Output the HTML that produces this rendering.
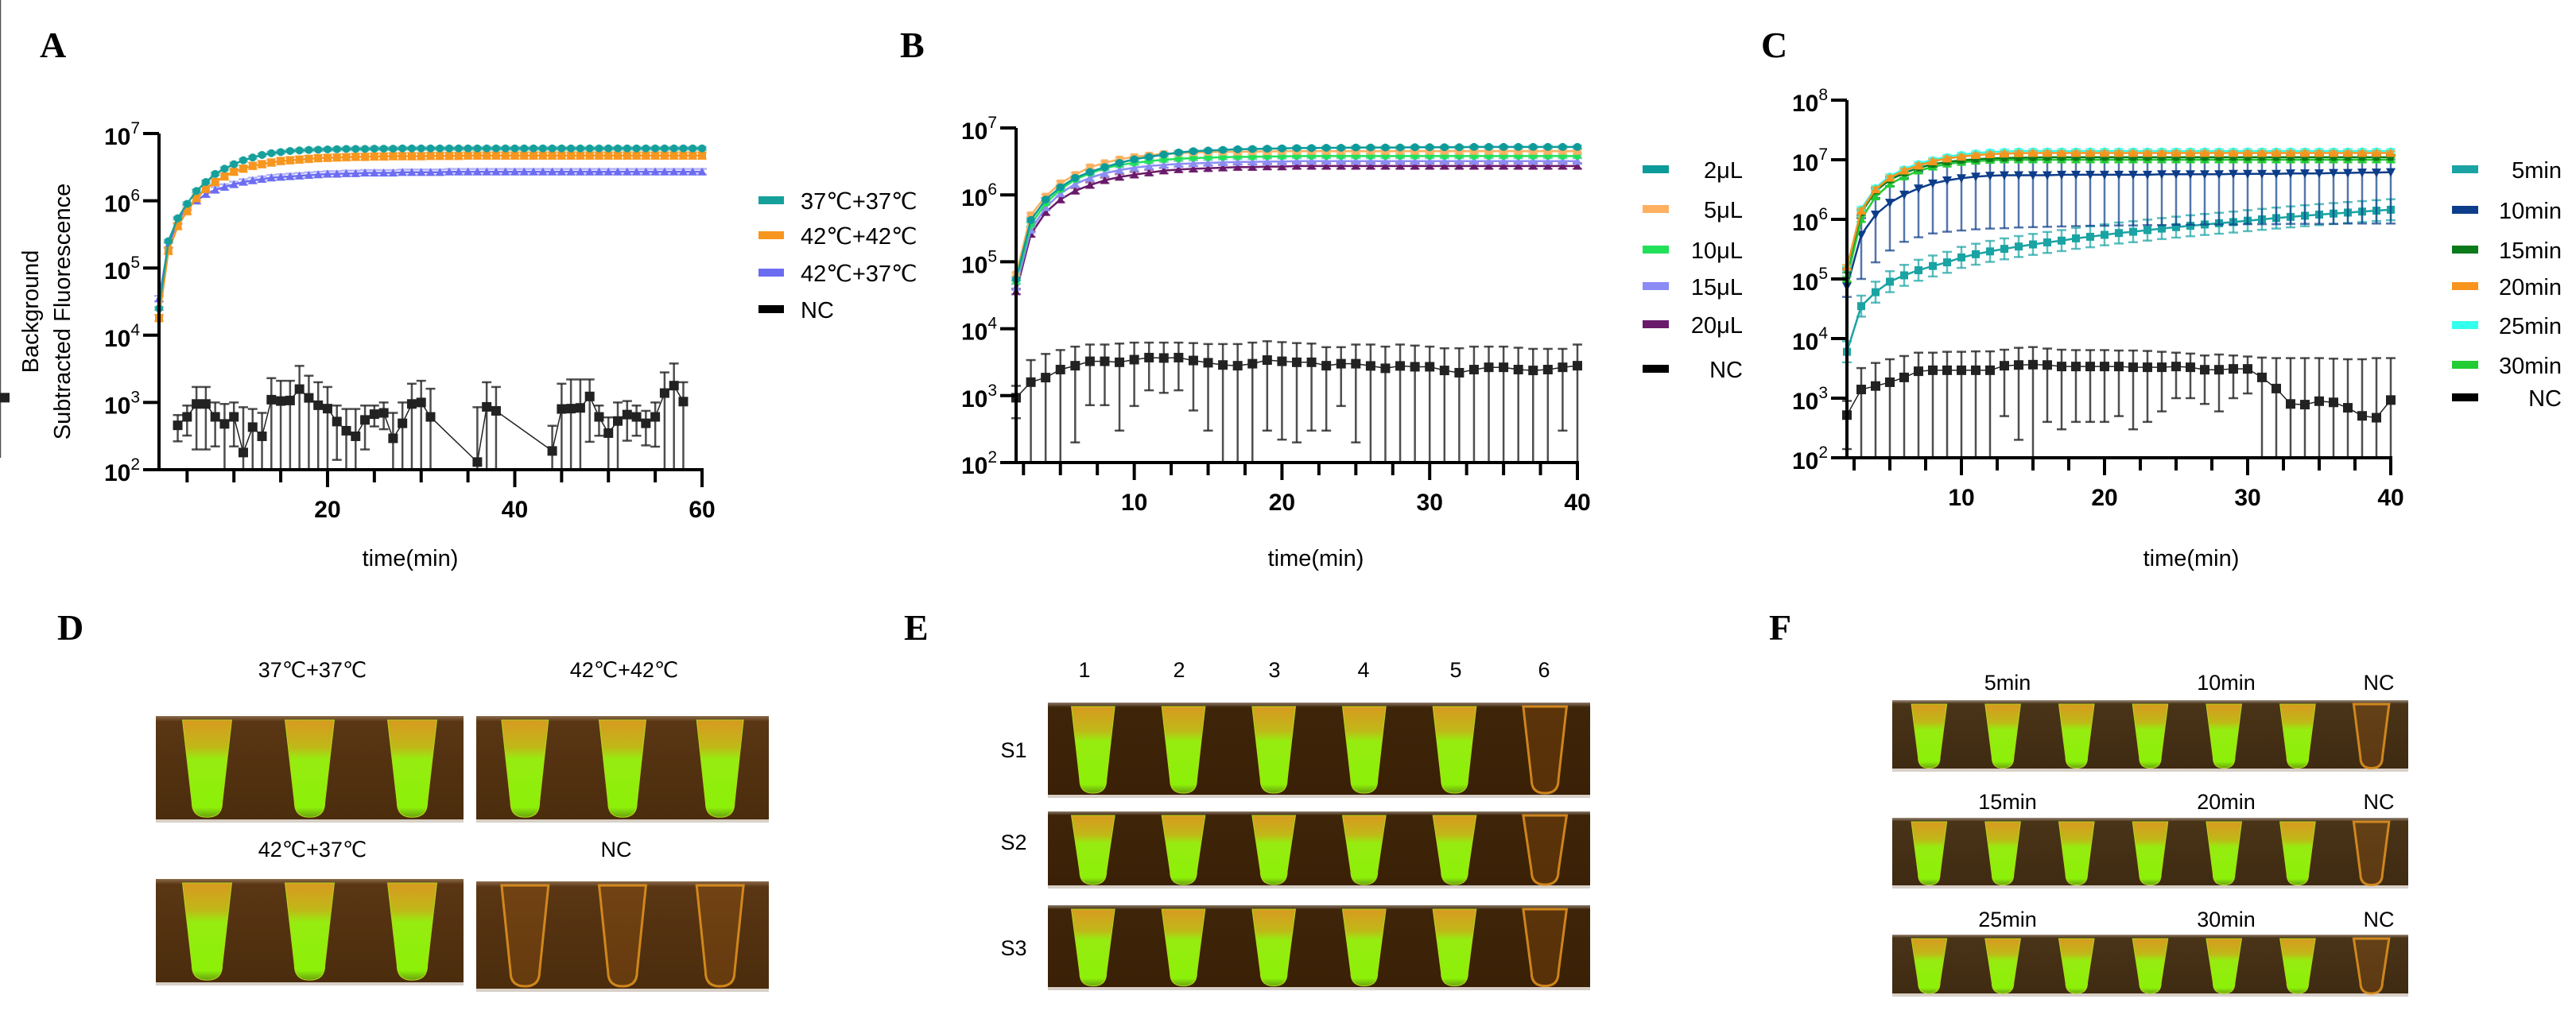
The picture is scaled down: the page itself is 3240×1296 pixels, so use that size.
<!DOCTYPE html>
<html><head><meta charset="utf-8"><style>
html,body{margin:0;padding:0;background:#fff;overflow:hidden;width:3240px;height:1296px;}
svg{display:block;font-family:"Liberation Sans",Arial,sans-serif;}
.tk{font-size:30px;font-weight:bold;fill:#000;}
.lg{font-size:29px;fill:#000;}
.pl{font-family:"Liberation Serif",serif;font-weight:bold;font-size:46px;fill:#000;}
.ph{font-size:27px;fill:#000;}
</style></head><body>
<svg id="fig" width="3240" height="1296" viewBox="0 0 3240 1296" xmlns="http://www.w3.org/2000/svg">
<defs>
<linearGradient id="bgD" x1="0" y1="0" x2="0" y2="1"><stop offset="0" stop-color="#8a6a4a"/><stop offset="0.05" stop-color="#5a3614"/><stop offset="1" stop-color="#4a2c0c"/></linearGradient>
<linearGradient id="bgE" x1="0" y1="0" x2="0" y2="1"><stop offset="0" stop-color="#8a7a6a"/><stop offset="0.05" stop-color="#3e2408"/><stop offset="1" stop-color="#3a2006"/></linearGradient>
<linearGradient id="bgF" x1="0" y1="0" x2="0" y2="1"><stop offset="0" stop-color="#9a8a7a"/><stop offset="0.05" stop-color="#4a3418"/><stop offset="1" stop-color="#3e2a12"/></linearGradient>
<linearGradient id="tubeG" x1="0" y1="0" x2="0" y2="1"><stop offset="0" stop-color="#d89a20"/><stop offset="0.28" stop-color="#c0b818"/><stop offset="0.4" stop-color="#96ec10"/><stop offset="0.9" stop-color="#8cf008"/><stop offset="1" stop-color="#6aa010"/></linearGradient>
</defs>
</svg>
<script>
// ---------- Panel A data ----------
const aTime = [2,3,4,5,6,7,8,9,10,11,12,13,14,15,16,17,18,19,20,21,22,23,24,25,26,27,28,29,30,31,32,33,34,35,36,37,38,39,40,41,42,43,44,45,46,47,48,49,50,51,52,53,54,55,56,57,58,59,60];
const a3737 = [2.5e4,2.5e5,5.5e5,9e5,1.4e6,1.9e6,2.5e6,3.0e6,3.5e6,4.0e6,4.4e6,4.8e6,5.1e6,5.3e6,5.5e6,5.6e6,5.7e6,5.75e6,5.8e6,5.85e6,5.9e6,5.9e6,5.9e6,5.95e6,5.95e6,5.95e6,6.0e6,6.0e6,6.0e6,6.0e6,6.0e6,6.0e6,6.0e6,6.0e6,6.0e6,6.0e6,6.0e6,6.0e6,6.0e6,6.0e6,6.0e6,6.0e6,6.0e6,6.0e6,6.0e6,6.0e6,6.0e6,6.0e6,6.0e6,6.0e6,6.0e6,6.0e6,6.0e6,6.0e6,6.0e6,6.0e6,6.0e6,6.0e6,6.0e6];
const a4242 = [1.8e4,1.8e5,4.2e5,7e5,1.1e6,1.5e6,1.9e6,2.3e6,2.7e6,3.0e6,3.3e6,3.5e6,3.7e6,3.9e6,4.0e6,4.1e6,4.2e6,4.3e6,4.35e6,4.4e6,4.45e6,4.5e6,4.5e6,4.55e6,4.55e6,4.6e6,4.6e6,4.6e6,4.6e6,4.65e6,4.65e6,4.65e6,4.65e6,4.7e6,4.7e6,4.7e6,4.7e6,4.7e6,4.7e6,4.7e6,4.7e6,4.7e6,4.7e6,4.7e6,4.7e6,4.7e6,4.7e6,4.7e6,4.7e6,4.7e6,4.7e6,4.7e6,4.7e6,4.7e6,4.7e6,4.7e6,4.7e6,4.7e6,4.7e6];
const a4237 = [3.5e4,2.2e5,5e5,8e5,1.0e6,1.25e6,1.45e6,1.6e6,1.75e6,1.9e6,2.0e6,2.1e6,2.2e6,2.25e6,2.3e6,2.35e6,2.4e6,2.45e6,2.5e6,2.5e6,2.55e6,2.55e6,2.6e6,2.6e6,2.6e6,2.6e6,2.65e6,2.65e6,2.65e6,2.65e6,2.65e6,2.7e6,2.7e6,2.7e6,2.7e6,2.7e6,2.7e6,2.7e6,2.7e6,2.7e6,2.7e6,2.7e6,2.7e6,2.7e6,2.7e6,2.7e6,2.7e6,2.7e6,2.7e6,2.7e6,2.7e6,2.7e6,2.7e6,2.7e6,2.7e6,2.7e6,2.7e6,2.7e6,2.7e6];
const aNcTime = [4,5,6,7,8,9,10,11,12,13,14,15,16,17,18,19,20,21,22,23,24,25,26,27,28,29,30,31,36,37,38,44,45,46,47,48,49,50,51,52,53,54,55,56,57,58];
const aNc = [457,611,950,950,611,480,611,180,430,314,1100,1050,1070,1580,1170,910,810,520,380,314,550,670,700,293,490,950,1000,610,130,860,750,190,800,810,830,1230,610,350,530,660,610,490,610,1380,1780,1030];
const aNcUp = [650,900,1700,1700,1000,950,1000,850,800,700,2300,2100,2100,3500,2500,2000,1700,900,800,800,900,900,1000,700,1000,1900,2100,1600,850,2000,1700,450,1900,2200,2200,2200,900,600,1000,1050,900,750,1000,2800,3800,2000];
const aTicks = [20,40,60];
// ---------- Panel B data ----------
const bTime = [2,3,4,5,6,7,8,9,10,11,12,13,14,15,16,17,18,19,20,21,22,23,24,25,26,27,28,29,30,31,32,33,34,35,36,37,38,39,40];
const b2 = [5.5e4,4.2e5,8.5e5,1.3e6,1.8e6,2.2e6,2.6e6,3.0e6,3.4e6,3.7e6,4.0e6,4.3e6,4.5e6,4.6e6,4.7e6,4.8e6,4.85e6,4.9e6,4.95e6,5.0e6,5.0e6,5.05e6,5.05e6,5.1e6,5.1e6,5.1e6,5.1e6,5.15e6,5.15e6,5.15e6,5.15e6,5.2e6,5.2e6,5.2e6,5.2e6,5.2e6,5.2e6,5.2e6,5.2e6];
const b5 = [6.5e4,5.0e5,9.5e5,1.5e6,2.0e6,2.6e6,3.0e6,3.4e6,3.7e6,3.9e6,4.1e6,4.2e6,4.3e6,4.35e6,4.4e6,4.4e6,4.45e6,4.45e6,4.5e6,4.5e6,4.5e6,4.5e6,4.5e6,4.5e6,4.5e6,4.5e6,4.5e6,4.5e6,4.5e6,4.5e6,4.5e6,4.5e6,4.5e6,4.5e6,4.5e6,4.5e6,4.5e6,4.5e6,4.5e6];
const b10 = [5.0e4,3.6e5,7.5e5,1.2e6,1.7e6,2.1e6,2.5e6,2.8e6,3.0e6,3.2e6,3.35e6,3.45e6,3.55e6,3.6e6,3.65e6,3.7e6,3.7e6,3.75e6,3.75e6,3.8e6,3.8e6,3.8e6,3.8e6,3.8e6,3.8e6,3.8e6,3.8e6,3.8e6,3.8e6,3.8e6,3.8e6,3.8e6,3.8e6,3.8e6,3.8e6,3.8e6,3.8e6,3.8e6,3.8e6];
const b15 = [4.2e4,3.0e5,6.5e5,1.05e6,1.45e6,1.8e6,2.1e6,2.35e6,2.55e6,2.7e6,2.8e6,2.9e6,2.95e6,3.0e6,3.05e6,3.1e6,3.1e6,3.15e6,3.15e6,3.2e6,3.2e6,3.2e6,3.2e6,3.2e6,3.2e6,3.2e6,3.2e6,3.2e6,3.2e6,3.2e6,3.2e6,3.2e6,3.2e6,3.2e6,3.2e6,3.2e6,3.2e6,3.2e6,3.2e6];
const b20 = [3.6e4,2.6e5,5.5e5,8.5e5,1.15e6,1.4e6,1.65e6,1.85e6,2.0e6,2.15e6,2.3e6,2.4e6,2.45e6,2.5e6,2.55e6,2.6e6,2.6e6,2.65e6,2.65e6,2.7e6,2.7e6,2.7e6,2.7e6,2.7e6,2.7e6,2.7e6,2.7e6,2.7e6,2.7e6,2.7e6,2.7e6,2.7e6,2.7e6,2.7e6,2.7e6,2.7e6,2.7e6,2.7e6,2.7e6];
const bNc = [930,1590,1860,2450,2800,3260,3260,3150,3450,3700,3650,3700,3350,3100,2870,2800,3000,3400,3260,3150,3150,2800,3000,3000,2780,2560,2780,2700,2700,2380,2200,2450,2650,2650,2450,2380,2450,2650,2800];
const bNcUp = [1400,3400,4200,4800,5400,5800,5800,6000,6200,6200,6200,6200,6100,5900,5900,5900,6200,6500,6300,6100,6000,5300,5300,5800,5800,5400,5800,5600,5400,5100,5100,5400,5400,5400,5200,5000,5000,5000,5800];
const bTicks = [10,20,30,40];
// ---------- Panel C data ----------
const cTime = [2,3,4,5,6,7,8,9,10,11,12,13,14,15,16,17,18,19,20,21,22,23,24,25,26,27,28,29,30,31,32,33,34,35,36,37,38,39,40];
const c5 = [6e3,3.5e4,6e4,9e4,1.15e5,1.4e5,1.65e5,1.9e5,2.3e5,2.6e5,2.9e5,3.2e5,3.5e5,3.8e5,4.1e5,4.4e5,4.8e5,5.1e5,5.5e5,5.9e5,6.2e5,6.6e5,7.0e5,7.4e5,7.8e5,8.2e5,8.6e5,9.0e5,9.5e5,1.0e6,1.05e6,1.1e6,1.15e6,1.2e6,1.25e6,1.3e6,1.35e6,1.4e6,1.45e6];
const c10 = [7.5e4,5.5e5,1.2e6,1.9e6,2.6e6,3.3e6,4.0e6,4.5e6,4.9e6,5.2e6,5.4e6,5.5e6,5.5e6,5.5e6,5.5e6,5.6e6,5.6e6,5.6e6,5.6e6,5.6e6,5.6e6,5.6e6,5.7e6,5.7e6,5.7e6,5.7e6,5.7e6,5.8e6,5.8e6,5.8e6,5.8e6,5.9e6,5.9e6,5.9e6,6.0e6,6.0e6,6.1e6,6.1e6,6.2e6];
const c15 = [1.4e5,1.3e6,3.0e6,4.6e6,6.0e6,7.3e6,8.4e6,9.2e6,9.8e6,1.02e7,1.05e7,1.07e7,1.08e7,1.09e7,1.1e7,1.1e7,1.1e7,1.1e7,1.1e7,1.1e7,1.1e7,1.1e7,1.1e7,1.1e7,1.1e7,1.1e7,1.1e7,1.1e7,1.1e7,1.1e7,1.1e7,1.1e7,1.1e7,1.1e7,1.1e7,1.1e7,1.1e7,1.1e7,1.1e7];
const c20 = [1.6e5,1.4e6,3.2e6,5.0e6,6.6e6,8.0e6,9.4e6,1.05e7,1.13e7,1.2e7,1.24e7,1.27e7,1.29e7,1.3e7,1.3e7,1.3e7,1.3e7,1.3e7,1.3e7,1.3e7,1.3e7,1.3e7,1.3e7,1.3e7,1.3e7,1.3e7,1.3e7,1.3e7,1.3e7,1.3e7,1.3e7,1.3e7,1.3e7,1.3e7,1.3e7,1.3e7,1.3e7,1.3e7,1.3e7];
const c25 = [1.5e5,1.5e6,3.4e6,5.3e6,7.0e6,8.6e6,1.0e7,1.12e7,1.22e7,1.3e7,1.35e7,1.38e7,1.4e7,1.4e7,1.4e7,1.4e7,1.4e7,1.4e7,1.4e7,1.4e7,1.4e7,1.4e7,1.4e7,1.4e7,1.4e7,1.4e7,1.4e7,1.4e7,1.4e7,1.4e7,1.4e7,1.4e7,1.4e7,1.4e7,1.4e7,1.4e7,1.4e7,1.4e7,1.4e7];
const c30 = [1.0e5,1.0e6,2.4e6,3.9e6,5.2e6,6.5e6,7.6e6,8.5e6,9.1e6,9.5e6,9.8e6,1.0e7,1.0e7,1.0e7,1.0e7,1.0e7,1.0e7,1.0e7,1.0e7,1.0e7,1.0e7,1.0e7,1.0e7,1.0e7,1.0e7,1.0e7,1.0e7,1.0e7,1.0e7,1.0e7,1.0e7,1.0e7,1.0e7,1.0e7,1.0e7,1.0e7,1.0e7,1.0e7,1.0e7];
const c10Lo = [5e4,1.0e5,1.9e5,3.0e5,4.2e5,5.0e5,5.8e5,6.2e5,6.5e5,6.8e5,7.0e5,7.1e5,7.3e5,7.4e5,7.5e5,7.6e5,7.7e5,7.8e5,7.8e5,7.9e5,7.9e5,8.0e5,8.0e5,8.1e5,8.1e5,8.2e5,8.2e5,8.2e5,8.3e5,8.3e5,8.3e5,8.4e5,8.4e5,8.4e5,8.4e5,8.5e5,8.5e5,8.5e5,8.5e5];
const cNc = [520,1400,1600,1850,2230,2830,2940,2940,2940,2940,2940,3500,3600,3650,3600,3400,3400,3400,3400,3400,3300,3300,3300,3400,3300,3000,3000,3100,3100,2230,1450,800,780,890,850,690,505,470,930,1020];
const cNcUp = [900,3200,3900,4500,5100,5800,5800,6000,6000,6100,6100,6500,7000,7200,6800,6500,6400,6400,6400,6300,6300,6200,6000,5800,5600,5200,5400,5200,5000,4800,4700,4700,4700,4700,4600,4500,4500,4700,4700];
const cTicks = [10,20,30,40];
</script>
<script>
const NS = 'http://www.w3.org/2000/svg';
const svg = document.getElementById('fig');
function mk(tag, attrs, parent, txt) {
  const e = document.createElementNS(NS, tag);
  for (const k in attrs) e.setAttribute(k, attrs[k]);
  if (txt !== undefined) e.textContent = txt;
  (parent || svg).appendChild(e);
  return e;
}
function chart(c) {
  const g = mk('g', {});
  
  
  const X = v => c.px0 + (v - c.xmin) / (c.xmax - c.xmin) * (c.px1 - c.px0);
  const Y = v => c.py1 - (Math.log10(Math.max(v, 100)) - 2) / (c.dmax - 2) * (c.py1 - c.py0);
  c.series.forEach(s => {
    const sg = mk('g', {}, g);
    
    
    s.y.forEach((v, i) => {
      let up = s.up ? s.up[i] : v * (s.ef || 1.08);
      let lo = s.lo ? s.lo[i] : (s.up ? 2 * v - up : v / (s.ef || 1.08));
      const x = X(s.x[i]);
      const yU = Y(up), yL = lo > 100 ? Y(lo) : c.py1;
      mk('line', {x1: x, x2: x, y1: yU, y2: yL, stroke: s.ec || s.color, 'stroke-width': 2.5, opacity: s.eo || 0.8}, sg);
      mk('line', {x1: x - 6, x2: x + 6, y1: yU, y2: yU, stroke: s.ec || s.color, 'stroke-width': 2.5, opacity: s.eo || 0.8}, sg);
      if (lo > 100) mk('line', {x1: x - 6, x2: x + 6, y1: yL, y2: yL, stroke: s.ec || s.color, 'stroke-width': 2.5, opacity: s.eo || 0.8}, sg);
    });
    const pts = s.y.map((v, i) => X(s.x[i]).toFixed(1) + ',' + Y(v).toFixed(1)).join(' ');
    mk('polyline', {points: pts, fill: 'none', stroke: s.color, 'stroke-width': s.lw || 2.5}, sg);
    s.y.forEach((v, i) => {
      const x = X(s.x[i]), y = Y(v), r = s.r || 5.5;
      let m;
      if (s.shape === 'sq') m = mk('rect', {x: x - r, y: y - r, width: 2 * r, height: 2 * r, fill: s.color}, sg);
      else if (s.shape === 'tri') m = mk('polygon', {points: `${x},${y - r - 1} ${x - r - 1},${y + r} ${x + r + 1},${y + r}`, fill: s.color}, sg);
      else if (s.shape === 'dtri') m = mk('polygon', {points: `${x},${y + r + 1} ${x - r - 1},${y - r} ${x + r + 1},${y - r}`, fill: s.color}, sg);
      else m = mk('circle', {cx: x, cy: y, r: r, fill: s.color}, sg);
      
      
    });
  });
  const ax = mk('g', {}, g);
  
  
  mk('line', {x1: c.px0, x2: c.px0, y1: c.py0, y2: c.py1 + 2, stroke: '#000', 'stroke-width': 4}, ax);
  mk('line', {x1: c.px0 - 2, x2: c.px1 + 2, y1: c.py1, y2: c.py1, stroke: '#000', 'stroke-width': 4}, ax);
  for (let d = 2; d <= c.dmax; d++) {
    const y = Y(Math.pow(10, d));
    mk('line', {x1: c.px0 - 20, x2: c.px0, y1: y, y2: y, stroke: '#000', 'stroke-width': 4}, ax);
    const t = mk('text', {x: c.px0 - 24, y: y + 14, 'text-anchor': 'end', class: 'tk'}, ax);
    
    
    mk('tspan', {}, t, '10');
    mk('tspan', {dy: -14, 'font-size': 21, 'font-weight': 'normal'}, t, String(d));
  }
  for (let v = c.minorStart; v <= c.xmax + 0.01; v += c.minorStep) {
    const x = X(v);
    const major = c.ticks.indexOf(Math.round(v * 10) / 10) >= 0;
    mk('line', {x1: x, x2: x, y1: c.py1, y2: c.py1 + (major ? 22 : 16), stroke: '#000', 'stroke-width': 4}, ax);
  }
  c.ticks.forEach(v => {
    const t = mk('text', {x: X(v), y: c.py1 + 60, 'text-anchor': 'middle', class: 'tk'}, ax, String(v));
    
    
  });
  const xt = mk('text', {x: c.titleX, y: 712, 'text-anchor': 'middle', class: 'lg', 'font-size': 30}, g, 'time(min)');
  
  
  c.legend.forEach(l => {
    const lg = mk('g', {}, g);
    
    
    mk('rect', {x: c.legX, y: l.y - 5, width: c.legW, height: 10, fill: l.color}, lg);
    mk('text', {x: c.legTX, y: l.y + 11, 'text-anchor': c.legAnchor, class: 'lg'}, lg, l.label);
  });
}

const TEAL = '#16a09c', ORG = '#f7961e', PURA = '#6c6cf2';
chart({name: 'chart-a', px0: 200, px1: 883, xmin: 2, xmax: 60, py0: 168, py1: 591, dmax: 7,
  minorStart: 5, minorStep: 5, ticks: aTicks, titleX: 516,
  series: [
    {id: 'nc', x: aNcTime, y: aNc, up: aNcUp, color: '#222', ec: '#222', shape: 'sq', r: 6, lw: 1.5},
    {id: 'a-42-37', x: aTime, y: a4237, color: PURA, shape: 'tri', r: 4.5, ef: 1.1, eo: 0.5},
    {id: 'a-42-42', x: aTime, y: a4242, color: ORG, shape: 'sq', r: 5, ef: 1.12, eo: 0.5},
    {id: 'a-37-37', x: aTime, y: a3737, color: TEAL, shape: 'circ', r: 5, ef: 1.05, eo: 0.5}
  ],
  legX: 954, legW: 32, legTX: 1007, legAnchor: 'start',
  legend: [{y: 252, color: TEAL, label: '37℃+37℃'}, {y: 296, color: ORG, label: '42℃+42℃'}, {y: 343, color: PURA, label: '42℃+37℃'}, {y: 389, color: '#000', label: '  NC'}]
});
chart({name: 'chart-b', px0: 1278, px1: 1984, xmin: 2, xmax: 40, py0: 161, py1: 582, dmax: 7,
  minorStart: 2.5, minorStep: 2.5, ticks: bTicks, titleX: 1655,
  series: [
    {id: 'nc', x: bTime, y: bNc, up: bNcUp, color: '#222', ec: '#222', shape: 'sq', r: 6, lw: 1.5},
    {id: 'b-20ul', x: bTime, y: b20, color: '#6a1a6a', shape: 'tri', r: 4.5, ef: 1.1, eo: 0.6},
    {id: 'b-15ul', x: bTime, y: b15, color: '#8c8cf5', shape: 'tri', r: 4.5, ef: 1.1, eo: 0.5},
    {id: 'b-10ul', x: bTime, y: b10, color: '#22e05a', shape: 'circ', r: 4.5, ef: 1.06, eo: 0.5},
    {id: 'b-5ul', x: bTime, y: b5, color: '#fdb060', shape: 'sq', r: 4.5, ef: 1.06, eo: 0.5},
    {id: 'b-2ul', x: bTime, y: b2, color: '#0d9a9a', shape: 'circ', r: 5, ef: 1.05, eo: 0.5}
  ],
  legX: 2066, legW: 33, legTX: 2192, legAnchor: 'end',
  legend: [{y: 213, color: '#0d9a9a', label: '2μL'}, {y: 263, color: '#fdb060', label: '5μL'}, {y: 314, color: '#22e05a', label: '10μL'}, {y: 360, color: '#8c8cf5', label: '15μL'}, {y: 408, color: '#6a1a6a', label: '20μL'}, {y: 464, color: '#000', label: 'NC'}]
});
chart({name: 'chart-c', px0: 2323, px1: 3007, xmin: 2, xmax: 40, py0: 126, py1: 576, dmax: 8,
  minorStart: 2.5, minorStep: 2.5, ticks: cTicks, titleX: 2756,
  series: [
    {id: 'nc', x: cTime, y: cNc, up: cNcUp, color: '#222', ec: '#222', shape: 'sq', r: 6, lw: 1.5},
    {id: 'c-5min', x: cTime, y: c5, color: '#1aa3a3', shape: 'sq', r: 5, ef: 1.5, eo: 0.7},
    {id: 'c-10min', x: cTime, y: c10, lo: c10Lo, up: c10.map(v => v * 1.9), color: '#0d3d8a', shape: 'dtri', r: 5, eo: 0.7},
    {id: 'c-30min', x: cTime, y: c30, color: '#22cc33', shape: 'tri', r: 4.5, ef: 1.1, eo: 0.6},
    {id: 'c-15min', x: cTime, y: c15, color: '#0a7a1a', shape: 'circ', r: 4.5, ef: 1.1, eo: 0.6},
    {id: 'c-25min', x: cTime, y: c25, color: '#33ffee', shape: 'circ', r: 4.5, ef: 1.08, eo: 0.6},
    {id: 'c-20min', x: cTime, y: c20, color: '#f7941d', shape: 'tri', r: 5, ef: 1.08, eo: 0.6}
  ],
  legX: 3084, legW: 33, legTX: 3222, legAnchor: 'end',
  legend: [{y: 213, color: '#1aa3a3', label: '5min'}, {y: 264, color: '#0d3d8a', label: '10min'}, {y: 314, color: '#0a7a1a', label: '15min'}, {y: 360, color: '#f7941d', label: '20min'}, {y: 409, color: '#33ffee', label: '25min'}, {y: 459, color: '#22cc33', label: '30min'}, {y: 500, color: '#000', label: 'NC'}]
});
const yl = mk('text', {transform: 'translate(48,392) rotate(-90)', 'text-anchor': 'middle', class: 'lg', 'font-size': 28}, svg, 'Background');


const yl2 = mk('text', {transform: 'translate(88,392) rotate(-90)', 'text-anchor': 'middle', class: 'lg', 'font-size': 28}, svg, 'Subtracted Fluorescence');



[['A', 50, 72], ['B', 1132, 72], ['C', 2215, 72], ['D', 72, 805], ['E', 1137, 805], ['F', 2225, 805]].forEach(p => {
  const t = mk('text', {x: p[1], y: p[2], class: 'pl'}, svg, p[0]);
  
  
});

function photo(name, x, y, w, h, pos, bg) {
  const g = mk('g', {});
  
  
  mk('rect', {x: x, y: y, width: w, height: h, fill: 'url(#' + bg + ')'}, g);
  mk('rect', {x: x, y: y + h - 4, width: w, height: 4, fill: '#d8d0c8'}, g);
  const n = pos.length, step = w / n, tw = step * 0.48, bw = tw * 0.62;
  pos.forEach((p, i) => {
    const cx = x + step * (i + 0.5);
    const top = y + 5, bot = y + h * 0.95;
    const r = bw / 2;
    const d = `M${cx - tw / 2},${top} L${cx - bw / 2},${bot - r} Q${cx - bw / 2},${bot} ${cx},${bot} Q${cx + bw / 2},${bot} ${cx + bw / 2},${bot - r} L${cx + tw / 2},${top} Z`;
    const t = mk('path', {d: d, fill: p ? 'url(#tubeG)' : 'rgba(200,110,20,0.25)', stroke: p ? '#b0d818' : '#e8961e', 'stroke-width': p ? 1 : 3, opacity: p ? 1 : 0.85}, g);
    
    
  });
}
function lbl(txt, x, y) {
  const t = mk('text', {x: x, y: y, 'text-anchor': 'middle', class: 'ph'}, svg, txt);
  
  
}
photo('photo-d-37-37', 196, 901, 387, 134, [1, 1, 1], 'bgD');
photo('photo-d-42-42', 599, 901, 368, 134, [1, 1, 1], 'bgD');
photo('photo-d-42-37', 196, 1106, 387, 134, [1, 1, 1], 'bgD');
photo('photo-d-nc', 599, 1109, 368, 139, [0, 0, 0], 'bgD');
lbl('37℃+37℃', 393, 852); lbl('42℃+42℃', 785, 852); lbl('42℃+37℃', 393, 1078); lbl('NC', 775, 1078);
photo('photo-e-s1', 1318, 884, 682, 120, [1, 1, 1, 1, 1, 0], 'bgE');
photo('photo-e-s2', 1318, 1021, 682, 97, [1, 1, 1, 1, 1, 0], 'bgE');
photo('photo-e-s3', 1318, 1139, 682, 107, [1, 1, 1, 1, 1, 0], 'bgE');
['1', '2', '3', '4', '5', '6'].forEach((s, i) => lbl(s, [1364, 1483, 1603, 1715, 1831, 1942][i], 852));
lbl('S1', 1275, 953); lbl('S2', 1275, 1069); lbl('S3', 1275, 1202);
photo('photo-f-5-10', 2380, 881, 649, 90, [1, 1, 1, 1, 1, 1, 0], 'bgF');
photo('photo-f-15-20', 2380, 1029, 649, 89, [1, 1, 1, 1, 1, 1, 0], 'bgF');
photo('photo-f-25-30', 2380, 1176, 649, 78, [1, 1, 1, 1, 1, 1, 0], 'bgF');
lbl('5min', 2525, 868); lbl('10min', 2800, 868); lbl('NC', 2992, 868);
lbl('15min', 2525, 1018); lbl('20min', 2800, 1018); lbl('NC', 2992, 1018);
lbl('25min', 2525, 1166); lbl('30min', 2800, 1166); lbl('NC', 2992, 1166);
</script>
</body></html>
